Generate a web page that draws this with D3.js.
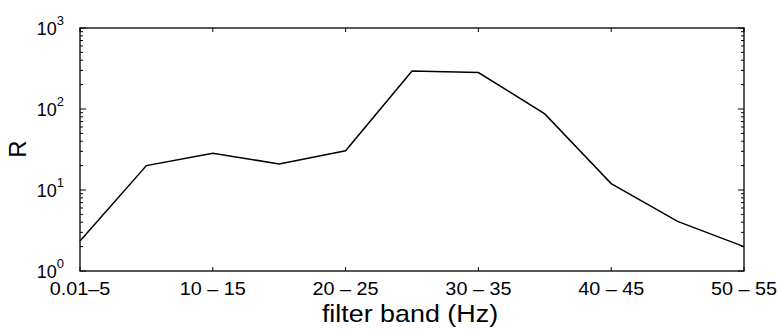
<!DOCTYPE html>
<html>
<head>
<meta charset="utf-8">
<script src="https://cdn.jsdelivr.net/npm/d3@7"></script>
<style>
  body { margin: 0; background: #fff; }
  text { font-family: "Liberation Sans", Arial, sans-serif; fill: #000; }
</style>
</head>
<body>
<div id="chart"></div>
<script>
// data
var bands = ["0.01-5", "5-10", "10-15", "15-20", "20-25", "25-30", "30-35", "35-40", "40-45", "45-50", "50-55"];
var rValues = [2.35, 20, 28.4, 21, 30.5, 295, 282, 87, 12, 4.1, 2.0];
var tickBands = ["0.01-5", "10-15", "20-25", "30-35", "40-45", "50-55"];
var tickLabels = ["0.01\u20135", "10 \u2013 15", "20 \u2013 25", "30 \u2013 35", "40 \u2013 45", "50 \u2013 55"];
var yDecades = [0, 1, 2, 3];

var width = 779, height = 329;
var margin = {top: 28, right: 35, bottom: 58, left: 80};
var w = width - margin.left - margin.right,
    h = height - margin.top - margin.bottom;

var svg = d3.select("#chart").append("svg")
    .attr("width", width)
    .attr("height", height);

var g = svg.append("g")
    .attr("transform", "translate(" + margin.left + "," + margin.top + ")");

var x = d3.scalePoint().domain(bands).range([0, w]);
var y = d3.scaleLog().domain([1, 1000]).range([h, 0]);

// minor ticks for log axis
var minor = [];
for (var d = 0; d < 3; d++) {
  for (var k = 2; k < 10; k++) minor.push(k * Math.pow(10, d));
}

// frame
g.append("rect")
    .attr("width", w).attr("height", h)
    .attr("fill", "none").attr("stroke", "#000").attr("stroke-width", 1.3);

// y ticks, inward on both sides
var yt = g.append("g");
yDecades.forEach(function(p) {
  var yy = y(Math.pow(10, p));
  yt.append("line").attr("x1", 0).attr("x2", 6).attr("y1", yy).attr("y2", yy);
  yt.append("line").attr("x1", w).attr("x2", w - 6).attr("y1", yy).attr("y2", yy);
});
minor.forEach(function(v) {
  var yy = y(v);
  yt.append("line").attr("x1", 0).attr("x2", 3).attr("y1", yy).attr("y2", yy);
  yt.append("line").attr("x1", w).attr("x2", w - 3).attr("y1", yy).attr("y2", yy);
});
yt.selectAll("line").attr("stroke", "#000").attr("stroke-width", 1);

// y tick labels 10^n
yDecades.forEach(function(p) {
  var t = g.append("text")
      .attr("x", -16)
      .attr("y", y(Math.pow(10, p)) + 7)
      .attr("text-anchor", "end")
      .style("font-size", "18px");
  t.append("tspan").text("10");
  t.append("tspan")
      .attr("dy", -10)
      .style("font-size", "13px")
      .text(p);
});

// x ticks, inward top and bottom
tickBands.forEach(function(b, i) {
  var xx = x(b);
  g.append("line").attr("x1", xx).attr("x2", xx).attr("y1", h).attr("y2", h - 4)
      .attr("stroke", "#000");
  g.append("line").attr("x1", xx).attr("x2", xx).attr("y1", 0).attr("y2", 4)
      .attr("stroke", "#000");
  g.append("text")
      .attr("x", xx)
      .attr("y", h + 24)
      .attr("text-anchor", "middle")
      .style("font-size", "18px")
      .attr("transform", "translate(" + xx + ",0) scale(1.1,1) translate(" + (-xx) + ",0)")
      .text(tickLabels[i]);
});

// the line
var line = d3.line()
    .x(function(d, i) { return x(bands[i]); })
    .y(function(d) { return y(d); });

g.append("path")
    .datum(rValues)
    .attr("fill", "none")
    .attr("stroke", "#000")
    .attr("stroke-width", 1.5)
    .attr("d", line);

// axis titles
svg.append("text")
    .attr("x", 410)
    .attr("y", 322)
    .attr("text-anchor", "middle")
    .style("font-size", "24px")
    .attr("transform", "translate(410,0) scale(1.12,1) translate(-410,0)")
    .text("filter band (Hz)");

svg.append("text")
    .attr("transform", "translate(26,149) rotate(-90)")
    .attr("text-anchor", "middle")
    .style("font-size", "24px")
    .text("R");
</script>
</body>
</html>
